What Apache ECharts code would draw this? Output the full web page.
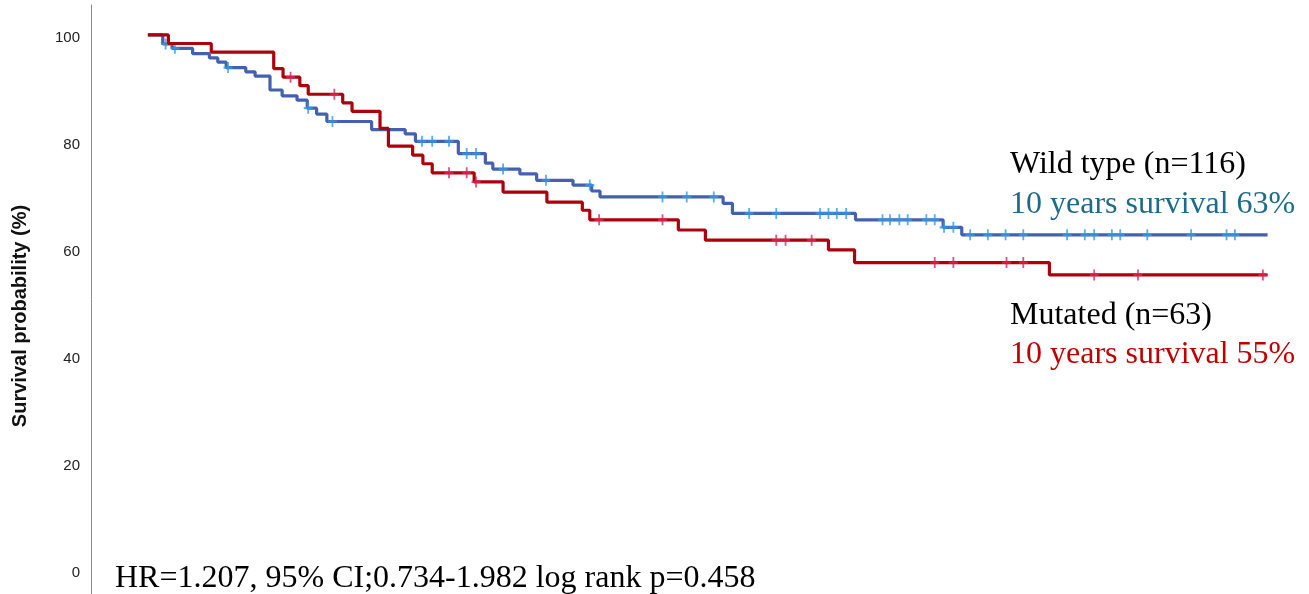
<!DOCTYPE html>
<html>
<head>
<meta charset="utf-8">
<script src="https://cdn.jsdelivr.net/npm/echarts@6/dist/echarts.min.js"></script>
<style>
html,body{margin:0;padding:0;background:#fff;}
#chart{width:1309px;height:594px;}
</style>
</head>
<body>
<div id="chart"></div>
<script>
// ---- Data (time in months, survival in %) ----
const yTickValues = [0, 20, 40, 60, 80, 100];

// Wild type (n=116): event times and survival after each event
const wildTimes = [0, 1.6, 2.6, 4.8, 6.6, 7.5, 8.4, 10.5, 11.5, 13.1, 14.4, 16.0, 17.1, 18.1, 19.2, 24.0, 27.6, 28.7, 33.3, 36.2, 37.0, 39.9, 41.7, 45.6, 47.6, 48.5, 61.7, 62.7, 75.9, 85.3, 87.3];
const wildSurv  = [100, 98.3, 97.5, 96.5, 95.7, 94.9, 93.9, 93.1, 92.3, 89.7, 88.6, 87.8, 86.3, 85.2, 83.8, 82.3, 81.5, 80.1, 77.8, 76.0, 74.9, 74.0, 72.8, 71.9, 70.8, 69.7, 68.5, 66.6, 65.4, 64.0, 62.6];
const wildCensor = [1.9, 2.9, 8.6, 17.2, 19.8, 29.4, 30.5, 32.3, 34.2, 35.2, 38.1, 42.7, 47.4, 55.2, 57.8, 60.7, 64.5, 67.4, 72.1, 73.0, 73.9, 74.9, 78.8, 79.6, 80.6, 81.5, 83.5, 84.4, 85.4, 86.4, 88.2, 90.1, 92.0, 93.9, 98.6, 100.5, 101.5, 103.4, 104.3, 107.2, 111.9, 115.7, 116.6];
const wildEnd = 120.1;

// Mutated (n=63)
const mutTimes = [0, 2.2, 6.8, 13.5, 14.5, 16.3, 17.2, 20.9, 21.9, 24.9, 25.8, 28.4, 29.5, 30.5, 35.0, 38.1, 42.8, 46.6, 47.4, 56.9, 59.8, 73.0, 75.8, 96.7];
const mutSurv  = [100, 98.4, 96.8, 93.7, 92.1, 90.5, 88.9, 87.3, 85.7, 82.5, 79.2, 77.5, 75.9, 74.2, 72.5, 70.6, 68.7, 67.2, 65.4, 63.5, 61.6, 59.8, 57.4, 55.1];
const mutCensor = [15.3, 20.0, 32.3, 34.2, 35.2, 48.4, 55.2, 67.4, 68.4, 71.2, 84.4, 86.4, 92.1, 93.9, 101.5, 106.2, 119.6];
const mutEnd = 120.1;

const legendWild = ['Wild type (n=116)', '10 years survival 63%'];
const legendMut = ['Mutated (n=63)', '10 years survival 55%'];
const statText = 'HR=1.207, 95% CI;0.734-1.982 log rank p=0.458';
const yTitle = 'Survival probability (%)';

// ---- Helpers ----
function stepPath(times, surv, end) {
  const pts = [[times[0], surv[0]]];
  for (let i = 1; i < times.length; i++) {
    pts.push([times[i], surv[i - 1]]);
    pts.push([times[i], surv[i]]);
  }
  pts.push([end, surv[surv.length - 1]]);
  return pts;
}
function survAt(times, surv, t) {
  let v = surv[0];
  for (let i = 0; i < times.length; i++) { if (times[i] <= t) v = surv[i]; }
  return v;
}
const plus = 'path://M4,0h2v4h4v2h-4v4h-2v-4h-4v-2h4z';
const serif = '"Liberation Serif", "Times New Roman", serif';

const chart = echarts.init(document.getElementById('chart'), null, {renderer: 'canvas'});
chart.setOption({
  animation: false,
  backgroundColor: '#ffffff',
  grid: {left: 91, right: 20, top: 5, bottom: 0, containLabel: false},
  xAxis: {
    type: 'value', min: -6.1, max: 122.4,
    axisLine: {show: false}, axisTick: {show: false}, axisLabel: {show: false}, splitLine: {show: false}
  },
  yAxis: {
    type: 'value', min: -4.6, max: 105.6,
    axisLine: {show: true, onZero: false, lineStyle: {color: '#8a8a8a', width: 1}},
    axisTick: {show: false},
    splitLine: {show: false},
    axisLabel: {
      customValues: yTickValues,
      fontFamily: 'Liberation Sans, Arial, sans-serif',
      fontSize: 15, color: '#222', margin: 11,
      formatter: '{a|{value}}',
      rich: {a: {fontFamily: 'Liberation Sans, Arial, sans-serif', fontSize: 15, color: '#222', padding: [6, 0, 0, 0]}}
    }
  },
  series: [
    {
      type: 'line', name: 'Wild type', data: stepPath(wildTimes, wildSurv, wildEnd),
      showSymbol: false, lineStyle: {color: '#4361ae', width: 3.2}, z: 2
    },
    {
      type: 'scatter', data: wildCensor.map(t => [t, survAt(wildTimes, wildSurv, t)]),
      symbol: plus, symbolSize: [9, 11], itemStyle: {color: '#3399e6'}, z: 3
    },
    {
      type: 'line', name: 'Mutated', data: stepPath(mutTimes, mutSurv, mutEnd),
      showSymbol: false, lineStyle: {color: '#ad000c', width: 3.2}, z: 4
    },
    {
      type: 'scatter', data: mutCensor.map(t => [t, survAt(mutTimes, mutSurv, t)]),
      symbol: plus, symbolSize: [9, 11], itemStyle: {color: '#e0245a'}, z: 5
    }
  ],
  graphic: [
    {type: 'text', x: 20, y: 316, rotation: Math.PI / 2,
      style: {text: yTitle, font: 'bold 20px "Liberation Sans", Arial, sans-serif', fill: '#111', align: 'center', verticalAlign: 'middle'}},
    {type: 'text', x: 1010, y: 165,
      style: {text: legendWild[0], font: '32px ' + serif, fill: '#000', align: 'left', verticalAlign: 'middle'}},
    {type: 'text', x: 1010, y: 205,
      style: {text: legendWild[1], font: '32px ' + serif, fill: '#1d6b8c', align: 'left', verticalAlign: 'middle'}},
    {type: 'text', x: 1010, y: 316,
      style: {text: legendMut[0], font: '32px ' + serif, fill: '#000', align: 'left', verticalAlign: 'middle'}},
    {type: 'text', x: 1010, y: 355,
      style: {text: legendMut[1], font: '32px ' + serif, fill: '#c00000', align: 'left', verticalAlign: 'middle'}},
    {type: 'text', x: 115, y: 579,
      style: {text: statText, font: '32px ' + serif, fill: '#000', align: 'left', verticalAlign: 'middle'}}
  ]
});
</script>
</body>
</html>
